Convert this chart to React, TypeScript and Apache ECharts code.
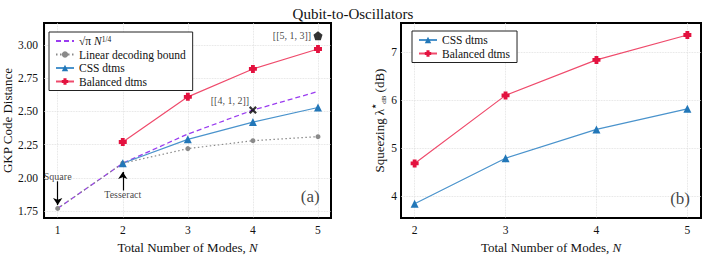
import React, { useEffect, useRef } from 'react';
import * as echarts from 'echarts';

const FONT = '"Liberation Serif", "DejaVu Serif", serif';

// ---------- data ----------
const SQRT_NAME = 'sqrt-pi scaling';
const LINEAR_NAME = 'Linear decoding bound';
const CSS_NAME = 'CSS dtms';
const BAL_NAME = 'Balanced dtms';

const modesA = [1, 2, 3, 4, 5];
const sqrtPiScaling = [1.77, 2.11, 2.33, 2.51, 2.65];
const linearBound = [1.77, 2.11, 2.22, 2.28, 2.31];
const dtmsModesA = [2, 3, 4, 5];
const cssA = [2.11, 2.29, 2.42, 2.53];
const balancedA = [2.27, 2.61, 2.82, 2.97];

const modesB = [2, 3, 4, 5];
const cssB = [3.84, 4.79, 5.39, 5.82];
const balancedB = [4.68, 6.1, 6.84, 7.36];

const codeNames = ['[[4, 1, 2]]', '[[5, 1, 3]]'];
const codeModes = [4, 5];
const codeDistances = [2.51, 3.07];

const xTicksA = [1, 2, 3, 4, 5];
const yTicksA = [1.75, 2.0, 2.25, 2.5, 2.75, 3.0];
const xTicksB = [2, 3, 4, 5];
const yTicksB = [4, 5, 6, 7];

// annotation anchors, in data units
const arrowLabels = ['Square', 'Tesseract'];
const arrowModes = [1, 2];
const arrowTextY = [2.011, 1.872];
const arrowFrom = [1.974, 1.905];
const arrowTo = [1.795, 2.045];

const pairs = (xs: number[], ys: number[]) => xs.map((x, i) => [x, ys[i]]);

const PLUS = 'path://M2.6,0 L7.4,0 L7.4,2.6 L10,2.6 L10,7.4 L7.4,7.4 L7.4,10 L2.6,10 L2.6,7.4 L0,7.4 L0,2.6 L2.6,2.6 Z';
const XMARK = 'path://M2,0 L5,3 L8,0 L10,2 L7,5 L10,8 L8,10 L5,7 L2,10 L0,8 L3,5 L0,2 Z';
const PENT = 'path://M5,0 L10,3.8 L8.1,10 L1.9,10 L0,3.8 Z';

const BLUE = '#2277b8';
const BLUE_LINE = '#4a93cc';
const RED = '#e3123f';
const RED_LINE = '#ef4b6c';
const PURPLE = '#9a3cf0';
const GRAY = '#8a8a8a';

const tickText = { fontFamily: FONT, fontSize: 11.5, color: '#111' };
const split = { show: true, lineStyle: { color: '#dcdcdc', type: 'dotted' as const, width: 0.8 } };

function buildOption(): any {
  const legendText = {
    fontFamily: FONT,
    fontSize: 11.5,
    color: '#111',
    rich: {
      t: { fontFamily: FONT, fontSize: 11.5, color: '#111' },
      i: { fontFamily: FONT, fontSize: 11.5, fontStyle: 'italic', color: '#111' },
      s: { fontFamily: FONT, fontSize: 7.5, verticalAlign: 'top', lineHeight: 11, color: '#111' },
    },
  };
  const legendBase = {
    orient: 'vertical',
    padding: [3, 7, 3, 6],
    itemGap: 1.5,
    itemWidth: 18,
    itemHeight: 8,
    borderColor: '#222',
    borderWidth: 1,
    borderRadius: 0,
    backgroundColor: '#fff',
    textStyle: legendText,
    formatter: (n: string) => (n === SQRT_NAME ? '{t|√π} {i|N}{s|1/4}' : '{t|' + n + '}'),
  };

  return {
    animation: false,
    backgroundColor: '#fff',
    title: {
      text: 'Qubit-to-Oscillators',
      left: 'center',
      top: 1,
      textStyle: { fontFamily: FONT, fontSize: 15, fontWeight: 'normal', color: '#111' },
    },
    legend: [
      {
        ...legendBase, left: 49, top: 32,
        data: [{ name: SQRT_NAME, itemStyle: { opacity: 0 } }, LINEAR_NAME, CSS_NAME, BAL_NAME],
      },
      { ...legendBase, left: 412, top: 31, data: [CSS_NAME, BAL_NAME] },
    ],
    grid: [
      { left: 44, top: 23, width: 287, height: 201, show: true, borderColor: '#000', borderWidth: 2, backgroundColor: 'transparent' },
      { left: 401, top: 23, width: 300, height: 198, show: true, borderColor: '#000', borderWidth: 2, backgroundColor: 'transparent' },
    ],
    xAxis: [
      {
        type: 'value', gridIndex: 0, min: 0.79, max: 5.2,
        name: 'Total Number of Modes, {i|N}', nameLocation: 'middle', nameGap: 16,
        nameTextStyle: { fontFamily: FONT, fontSize: 13, color: '#111', rich: { i: { fontFamily: FONT, fontSize: 13, fontStyle: 'italic' } } },
        axisLine: { show: false },
        axisTick: { show: false, customValues: xTicksA },
        axisLabel: { ...tickText, margin: 6, customValues: xTicksA },
        splitLine: split,
      },
      {
        type: 'value', gridIndex: 1, min: 1.85, max: 5.15,
        name: 'Total Number of Modes, {i|N}', nameLocation: 'middle', nameGap: 19,
        nameTextStyle: { fontFamily: FONT, fontSize: 13, color: '#111', rich: { i: { fontFamily: FONT, fontSize: 13, fontStyle: 'italic' } } },
        axisLine: { show: false },
        axisTick: { show: false, customValues: xTicksB },
        axisLabel: { ...tickText, margin: 6, customValues: xTicksB },
        splitLine: split,
      },
    ],
    yAxis: [
      {
        type: 'value', gridIndex: 0, min: 1.697, max: 3.166,
        name: 'GKP Code Distance', nameLocation: 'middle', nameGap: 28,
        nameTextStyle: { fontFamily: FONT, fontSize: 13, color: '#111' },
        axisLine: { show: false },
        axisTick: { show: false, customValues: yTicksA },
        axisLabel: { ...tickText, margin: 6, customValues: yTicksA, formatter: (v: number) => v.toFixed(2) },
        splitLine: split,
      },
      {
        type: 'value', gridIndex: 1, min: 3.54, max: 7.61,
        name: 'Squeezing {l|λ}{sup|★}{sub|dB} (dB)', nameLocation: 'middle', nameGap: 8,
        nameTextStyle: {
          fontFamily: FONT, fontSize: 13, color: '#111', lineHeight: 16,
          rich: {
            l: { fontFamily: FONT, fontSize: 13, lineHeight: 16 },
            sup: { fontFamily: FONT, fontSize: 6, verticalAlign: 'top', lineHeight: 16 },
            sub: { fontFamily: FONT, fontSize: 7, verticalAlign: 'bottom', lineHeight: 16 },
          },
        },
        axisLine: { show: false },
        axisTick: { show: false, customValues: yTicksB },
        axisLabel: { ...tickText, margin: 4, customValues: yTicksB },
        splitLine: split,
      },
    ],
    series: [
      {
        name: SQRT_NAME, type: 'line', xAxisIndex: 0, yAxisIndex: 0, smooth: false,
        data: pairs(modesA, sqrtPiScaling), symbol: 'none',
        lineStyle: { color: PURPLE, width: 1.3, type: [5, 3] }, itemStyle: { color: PURPLE },
      },
      {
        name: LINEAR_NAME, type: 'line', xAxisIndex: 0, yAxisIndex: 0, smooth: false,
        data: pairs(modesA, linearBound), symbol: 'circle', symbolSize: 5,
        lineStyle: { color: GRAY, width: 1.2, type: [1.5, 2.5] }, itemStyle: { color: GRAY },
      },
      {
        name: CSS_NAME, type: 'line', xAxisIndex: 0, yAxisIndex: 0, smooth: false,
        data: pairs(dtmsModesA, cssA), symbol: 'triangle', symbolSize: 8,
        lineStyle: { color: BLUE_LINE, width: 1.2 }, itemStyle: { color: BLUE },
      },
      {
        name: BAL_NAME, type: 'line', xAxisIndex: 0, yAxisIndex: 0, smooth: false,
        data: pairs(dtmsModesA, balancedA), symbol: PLUS, symbolSize: 8,
        lineStyle: { color: RED_LINE, width: 1.2 }, itemStyle: { color: RED },
      },
      {
        name: 'codes', type: 'scatter', xAxisIndex: 0, yAxisIndex: 0, silent: true, z: 5,
        data: codeNames.map((n, i) => ({
          name: n,
          value: [codeModes[i], codeDistances[i]],
          symbol: i === 0 ? XMARK : PENT,
          symbolSize: i === 0 ? 8 : 9,
          label: { offset: i === 0 ? [-23, -10] : [-26, 0] },
        })),
        itemStyle: { color: '#000' },
        label: { show: true, position: 'inside', formatter: (p: any) => p.name, fontFamily: FONT, fontSize: 10, color: '#111' },
      },
      {
        name: 'notesA', type: 'scatter', xAxisIndex: 0, yAxisIndex: 0, silent: true, symbolSize: 0,
        data: [
          ...arrowLabels.map((n, i) => ({ name: n, value: [arrowModes[i], arrowTextY[i]] })),
          { name: '(a)', value: [4.88, 1.857], label: { fontSize: 17 } },
        ],
        label: { show: true, position: 'inside', formatter: (p: any) => p.name, fontFamily: FONT, fontSize: 10, color: '#111' },
        markLine: {
          silent: true, symbol: ['none', 'arrow'], symbolSize: 7, precision: 3,
          lineStyle: { color: '#000', width: 1.2, type: 'solid' },
          label: { show: false },
          data: arrowModes.map((m, i) => [{ coord: [m, arrowFrom[i]] }, { coord: [m, arrowTo[i]] }]),
        },
      },
      {
        name: CSS_NAME, type: 'line', xAxisIndex: 1, yAxisIndex: 1, smooth: false,
        data: pairs(modesB, cssB), symbol: 'triangle', symbolSize: 8,
        lineStyle: { color: BLUE_LINE, width: 1.2 }, itemStyle: { color: BLUE },
      },
      {
        name: BAL_NAME, type: 'line', xAxisIndex: 1, yAxisIndex: 1, smooth: false,
        data: pairs(modesB, balancedB), symbol: PLUS, symbolSize: 8,
        lineStyle: { color: RED_LINE, width: 1.2 }, itemStyle: { color: RED },
      },
      {
        name: 'notesB', type: 'scatter', xAxisIndex: 1, yAxisIndex: 1, silent: true, symbolSize: 0,
        data: [{ name: '(b)', value: [4.92, 3.94] }],
        label: { show: true, position: 'inside', formatter: (p: any) => p.name, fontFamily: FONT, fontSize: 17, color: '#111' },
      },
    ],
  };
}

export default function App() {
  const ref = useRef<HTMLDivElement>(null);
  useEffect(() => {
    document.body.style.margin = '0';
    const chart = echarts.init(ref.current as HTMLDivElement, null, { renderer: 'svg' });
    chart.setOption(buildOption());
    return () => chart.dispose();
  }, []);
  return <div ref={ref} style={{ width: 706, height: 259 }} />;
}
